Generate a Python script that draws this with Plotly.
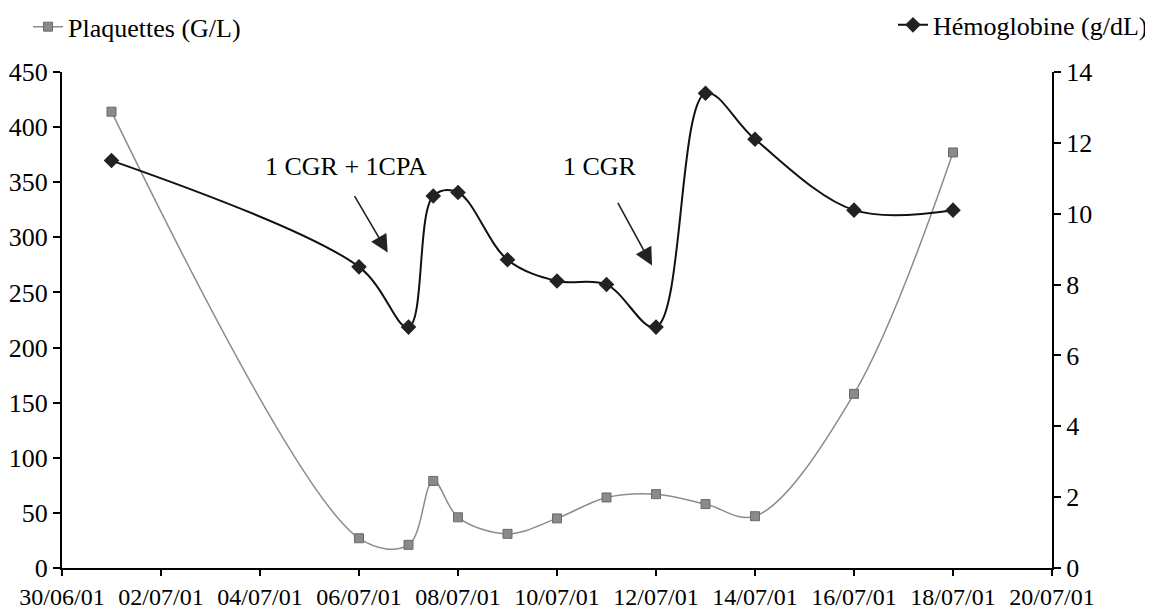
import plotly.graph_objects as go

dates = ["2001-07-01", "2001-07-06", "2001-07-07", "2001-07-07 12:00", "2001-07-08",
         "2001-07-09", "2001-07-10", "2001-07-11", "2001-07-12", "2001-07-13",
         "2001-07-14", "2001-07-16", "2001-07-18"]
plaquettes = [414, 27, 21, 79, 46, 31, 45, 64, 67, 58, 47, 158, 377]
hemoglobine = [11.5, 8.5, 6.8, 10.5, 10.6, 8.7, 8.1, 8.0, 6.8, 13.4, 12.1, 10.1, 10.1]

FONT = "Liberation Serif, Times New Roman, serif"

fig = go.Figure()
fig.add_trace(go.Scatter(
    x=dates, y=plaquettes, name="Plaquettes (G/L)", mode="lines+markers",
    line=dict(color="#8c8c8c", width=1.5, shape="spline", smoothing=1.0),
    marker=dict(symbol="square", size=9, color="#8a8a8a", line=dict(color="#6a6a6a", width=1)),
    legend="legend", yaxis="y"))
fig.add_trace(go.Scatter(
    x=dates, y=hemoglobine, name="Hémoglobine (g/dL)", mode="lines+markers",
    line=dict(color="#111111", width=2, shape="spline", smoothing=1.0),
    marker=dict(symbol="diamond", size=12, color="#222222"),
    legend="legend2", yaxis="y2"))

fig.update_layout(
    width=1145, height=605,
    margin=dict(l=54, r=101, t=64, b=45, autoexpand=False),
    paper_bgcolor="white", plot_bgcolor="white",
    font=dict(family=FONT, size=25, color="black"),
    xaxis=dict(type="date", range=["2001-06-30", "2001-07-20"], automargin=False,
               tick0="2001-06-30", dtick=2 * 86400000, tickformat="%d/%m/%y",
               showgrid=False, zeroline=False, showline=True, linecolor="black", linewidth=2,
               ticks="outside", ticklen=6, tickwidth=1.5, tickcolor="black",
               tickfont=dict(size=24)),
    yaxis=dict(range=[0, 450], dtick=50, showgrid=False, zeroline=False, automargin=False,
               showline=True, linecolor="black", linewidth=2,
               ticks="outside", ticklen=7, tickwidth=1.5, tickcolor="black",
               tickfont=dict(size=26)),
    yaxis2=dict(range=[0, 14], dtick=2, overlaying="y", side="right", automargin=False,
                showgrid=False, zeroline=False, showline=True, linecolor="black", linewidth=2,
                ticks="outside", ticklen=7, tickwidth=1.5, tickcolor="black",
                tickfont=dict(size=26)),
    legend=dict(x=0.0175, y=0.969, xref="container", yref="container",
                xanchor="left", yanchor="middle",
                bgcolor="rgba(0,0,0,0)", font=dict(size=26)),
    legend2=dict(x=1.0, y=0.972, xref="container", yref="container",
                 xanchor="right", yanchor="middle",
                 bgcolor="rgba(0,0,0,0)", font=dict(size=26)),
    showlegend=True,
)

fig.add_annotation(x=0.287, y=0.81, xref="paper", yref="paper", text="1 CGR + 1CPA",
                   xanchor="center", yanchor="middle", showarrow=False, font=dict(size=26))
fig.add_annotation(x=0.543, y=0.81, xref="paper", yref="paper", text="1 CGR",
                   xanchor="center", yanchor="middle", showarrow=False, font=dict(size=26))
fig.add_annotation(x=0.329, y=0.636, xref="paper", yref="paper", text="",
                   showarrow=True, arrowhead=2, arrowsize=2.2, arrowwidth=1.6,
                   arrowcolor="#222222", ax=-34, ay=-58)
fig.add_annotation(x=0.596, y=0.61, xref="paper", yref="paper", text="",
                   showarrow=True, arrowhead=2, arrowsize=2.2, arrowwidth=1.6,
                   arrowcolor="#222222", ax=-35, ay=-64)

fig.write_html("out.html")
